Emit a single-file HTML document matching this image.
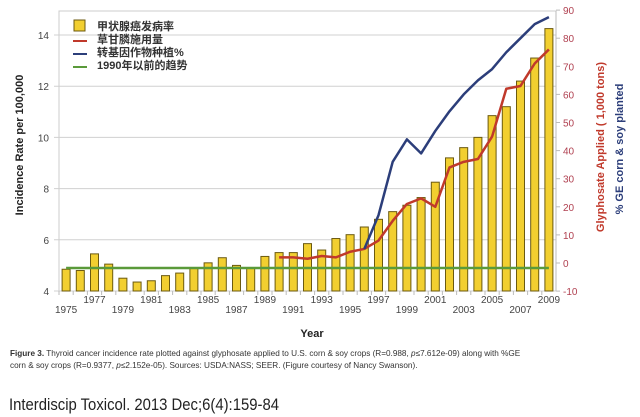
<!DOCTYPE html>
<html><head><meta charset="utf-8">
<style>
body{margin:0;background:#fff;width:640px;height:417px;overflow:hidden;font-family:"Liberation Sans","Noto Sans CJK SC",sans-serif;}
svg{position:absolute;left:0;top:0}
</style></head>
<body>
<svg id="chart" width="640" height="417"></svg>
<script>
const years=[1975,1976,1977,1978,1979,1980,1981,1982,1983,1984,1985,1986,1987,1988,1989,1990,1991,1992,1993,1994,1995,1996,1997,1998,1999,2000,2001,2002,2003,2004,2005,2006,2007,2008,2009];
const incidence=[4.85,4.8,5.45,5.05,4.5,4.35,4.4,4.6,4.7,4.9,5.1,5.3,5.0,4.9,5.35,5.5,5.5,5.85,5.6,6.05,6.2,6.5,6.8,7.1,7.35,7.65,8.25,9.2,9.6,10.0,10.85,11.2,12.2,13.1,14.25];
const glyYears=[1990,1991,1992,1993,1994,1995,1996,1997,1998,1999,2000,2001,2002,2003,2004,2005,2006,2007,2008,2009];
const glyphosate=[2,2,1.5,2.5,2,4,5,8,15,21,23,20,34,36,37,45,62,63,71,76];
const geYears=[1996,1997,1998,1999,2000,2001,2002,2003,2004,2005,2006,2007,2008,2009];
const gePct=[5,17,36,44,39,47,54,60,65,69,75,80,85,87.5];
const trendYears=[1975,2009];
const trendVals=[4.9,4.9];
const leftTicks=[4,6,8,10,12,14];
const rightTicks=[-10,0,10,20,30,40,50,60,70,80,90];
const xTickYears=[1975,1977,1979,1981,1983,1985,1987,1989,1991,1993,1995,1997,1999,2001,2003,2005,2007,2009];

const NS="http://www.w3.org/2000/svg";
const svg=document.getElementById('chart');
const L=59,R=556,slot=(R-L)/years.length;
const xS=y=>L+slot/2+(y-1975)*slot;
const yL=v=>291-(v-4)*25.6;
const yR=v=>263-v*2.81;
function mk(t,a,txt){const e=document.createElementNS(NS,t);for(const k in a)e.setAttribute(k,a[k]);if(txt!==undefined)e.textContent=txt;svg.appendChild(e);return e;}

let e;
e=mk('rect',{x:L,y:11,width:R-L,height:280,fill:'none',stroke:'#ccc'});


leftTicks.forEach(t=>{
  e=mk('line',{x1:L-5,x2:R,y1:yL(t),y2:yL(t),stroke:'#d0d0d0','stroke-width':1});
  
  
  e=mk('text',{x:49,y:yL(t)+4,'text-anchor':'end','font-size':10,fill:'#444'},t);
  
  
});
rightTicks.forEach(t=>{
  mk('line',{x1:R,x2:R+4,y1:yR(t),y2:yR(t),stroke:'#bbb'});
  e=mk('text',{x:563,y:yR(t)+4,'font-size':10,fill:'#b04050'},t);
  
  
});
e=mk('line',{x1:R,x2:R,y1:11,y2:291,stroke:'#bbb'});
years.forEach((y,i)=>{
  e=mk('rect',{x:xS(y)-4,y:yL(incidence[i]),width:8,height:291-yL(incidence[i]),fill:'#f2cf30',stroke:'#6b5a10','stroke-width':1});
  
  
  mk('line',{x1:L+i*slot,x2:L+i*slot,y1:291,y2:295,stroke:'#bbb'});
});
xTickYears.forEach((y,i)=>{
  e=mk('text',{x:xS(y),y:(i%2==0)?313:303,'text-anchor':'middle','font-size':10,fill:'#444'},y);
  
  
});
function line(xs,vs,f,col,w,name){
  e=mk('polyline',{points:xs.map((x,i)=>xS(x)+','+f(vs[i])).join(' '),fill:'none',stroke:col,'stroke-width':w,'stroke-linejoin':'round'});
  
  
}
line(trendYears,trendVals,yL,'#5a9a3a',2.5,'trend-line-pre1990');
line(glyYears,glyphosate,yR,'#c0392b',2.5,'glyphosate-line');
line(geYears,gePct,yR,'#2c3e7a',2.5,'ge-crops-line');

e=mk('rect',{x:74,y:20,width:11,height:11,fill:'#f2cf30',stroke:'#6b5a10'});


[['#c0392b',41],['#2c3e7a',54],['#5a9a3a',67]].forEach(a=>mk('line',{x1:73,x2:87,y1:a[1],y2:a[1],stroke:a[0],'stroke-width':2}));
['甲状腺癌发病率','草甘膦施用量','转基因作物种植%','1990年以前的趋势'].forEach((s,i)=>{
  e=mk('text',{x:97,y:30+i*13,'font-size':11,'font-weight':'bold',fill:'#333'},s);
  
  
});
e=mk('text',{transform:'translate(23,145) rotate(-90)','text-anchor':'middle','font-size':11,'font-weight':'bold',fill:'#222'},'Incidence Rate per 100,000');


e=mk('text',{transform:'translate(604,147) rotate(-90)','text-anchor':'middle','font-size':11,'font-weight':'bold',fill:'#c0392b'},'Glyphosate Applied ( 1,000 tons)');


e=mk('text',{transform:'translate(623,149) rotate(-90)','text-anchor':'middle','font-size':11,'font-weight':'bold',fill:'#2c3e7a'},'% GE corn & soy planted');


e=mk('text',{x:312,y:337,'text-anchor':'middle','font-size':11,'font-weight':'bold',fill:'#222'},'Year');


e=mk('text',{x:10,y:356,'font-size':8.2,fill:'#333'});
e.innerHTML='<tspan font-weight="bold">Figure 3.</tspan> Thyroid cancer incidence rate plotted against glyphosate applied to U.S. corn &amp; soy crops (R=0.988, <tspan font-style="italic">p</tspan>≤7.612e-09) along with %GE';


e=mk('text',{x:10,y:368,'font-size':8.2,fill:'#333'});
e.innerHTML='corn &amp; soy crops (R=0.9377, <tspan font-style="italic">p</tspan>≤2.152e-05). Sources: USDA:NASS; SEER. (Figure courtesy of Nancy Swanson).';


e=mk('text',{x:9,y:410,'font-size':17,fill:'#222',textLength:270,lengthAdjust:'spacingAndGlyphs'},'Interdiscip Toxicol. 2013 Dec;6(4):159-84');


</script>
</body></html>
